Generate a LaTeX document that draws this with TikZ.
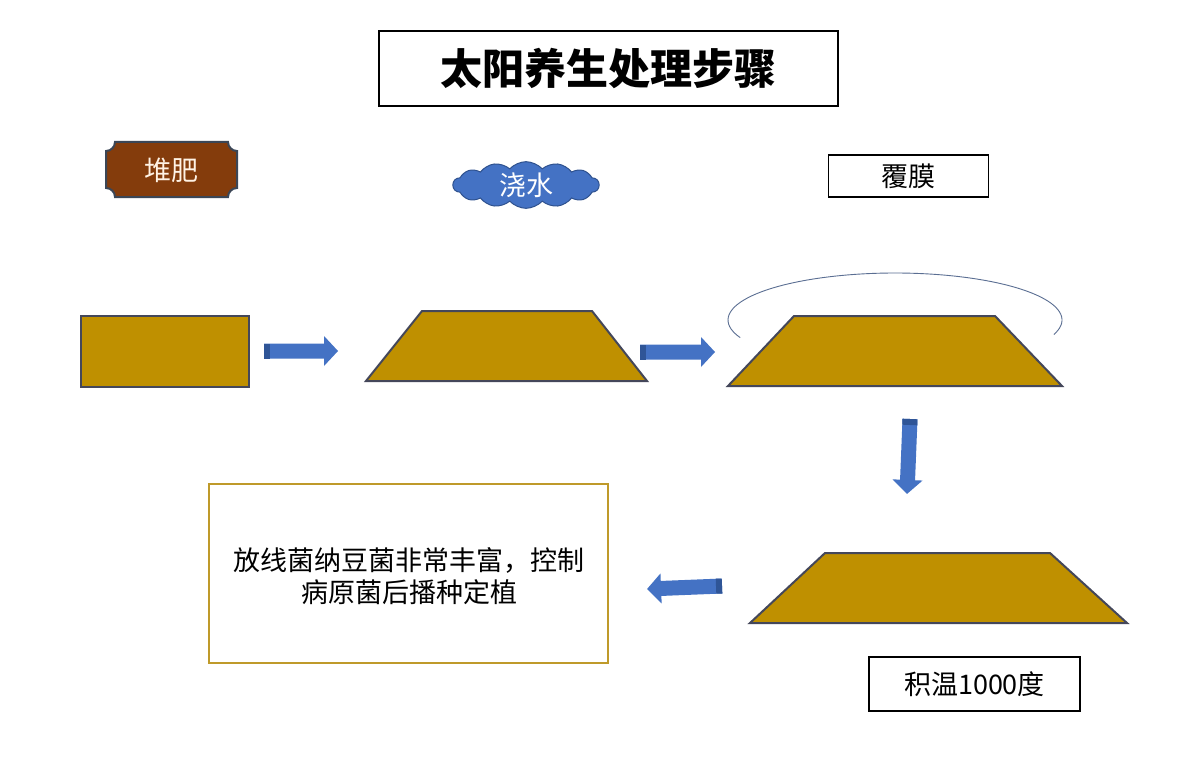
\documentclass[tikz,border=0pt]{standalone}
\usepackage{fontspec}
\setmainfont{Noto Sans CJK SC}
\usetikzlibrary{shapes.symbols}
\definecolor{soil}{HTML}{BF9000}
\definecolor{soilline}{HTML}{44475A}
\definecolor{arrowblue}{HTML}{4472C4}
\definecolor{arrowdark}{HTML}{2F5597}
\definecolor{plaquebrown}{HTML}{843C0C}
\definecolor{plaqueline}{HTML}{3B4656}
\definecolor{plaquetext}{HTML}{FFF2E4}
\definecolor{cloudline}{HTML}{2F528F}
\definecolor{filmline}{HTML}{5A6E92}
\definecolor{goldline}{HTML}{BF9A2A}
\tikzset{
  heap/.style={fill=soil, draw=soilline, line width=2pt, line join=miter},
  labelbox/.style={draw=black, line width=1.6pt, fill=white, inner sep=0pt},
  txt/.style={font=\fontsize{27}{32}\selectfont},
  blockarrow/.style={fill=arrowblue},
}
\newcommand{\blockarr}[3]{%
  \begin{scope}[shift={(#1)}, rotate=#2]
    \fill[blockarrow] (0,-7.5) -- (#3-14,-7.5) -- (#3-14,-15) -- (#3,0) -- (#3-14,15) -- (#3-14,7.5) -- (0,7.5) -- cycle;
    \fill[arrowdark] (0,-7.5) rectangle (6,7.5);
  \end{scope}}
\begin{document}
\begin{tikzpicture}[x=1pt,y=-1pt]
\useasboundingbox (0,0) rectangle (1201,778);
\fill[white] (0,0) rectangle (1201,778);

% title
\node[labelbox, line width=2pt, minimum width=459pt, minimum height=75pt,
      font=\fontsize{42}{48}\selectfont\bfseries] (title) at (608.5,68.5) {太阳养生处理步骤};

% plaque 堆肥
\filldraw[fill=plaquebrown, draw=plaqueline, line width=2pt]
  (115,142) -- (228,142) arc[start angle=180, end angle=90, radius=9]
  -- (237,188) arc[start angle=270, end angle=180, radius=9]
  -- (115,197) arc[start angle=0, end angle=-90, radius=9]
  -- (106,151) arc[start angle=90, end angle=0, radius=9] -- cycle;
\node[txt, text=plaquetext] (compost) at (171.5,170) {堆肥};

% cloud 浇水
\node[cloud, cloud puffs=14, cloud puff arc=95, aspect=3.6, fill=arrowblue, draw=cloudline,
      line width=1pt, minimum width=146pt, minimum height=42pt, inner sep=0pt,
      txt, text=white] (water) at (526,185) {浇水};

% 覆膜 box
\node[labelbox, minimum width=160pt, minimum height=42pt, txt] (film) at (908.5,176) {覆膜};

% heaps
\draw[heap] (81,316) rectangle (249,387);
\draw[heap] (366,381) -- (422,311) -- (592,311) -- (647,381) -- cycle;
\draw[heap] (728,386) -- (794,316) -- (995,316) -- (1062,386) -- cycle;
\draw[heap] (750,623) -- (825,553) -- (1050,553) -- (1127,623) -- cycle;

% film arc
\draw[draw=filmline, line width=0.9pt] plot[domain=158:378, samples=80, smooth]
  ({895+167*cos(\x)},{320+47*sin(\x)});

% arrows
\blockarr{264,351}{0}{74}
\blockarr{640,352}{0}{75}
\blockarr{910,419}{-92.3}{75}
\blockarr{722,586}{182.3}{75}

% result box
\node[draw=goldline, line width=2pt, minimum width=399pt, minimum height=179pt, inner sep=0pt] (resultbox) at (408.5,573.5) {};
\node[txt, align=center] (result) at (409,576) {放线菌纳豆菌非常丰富，控制\\病原菌后播种定植};

% 积温 box
\node[labelbox, minimum width=211pt, minimum height=54pt, txt] (temp) at (974.5,684) {积温1000度};
\end{tikzpicture}
\end{document}
